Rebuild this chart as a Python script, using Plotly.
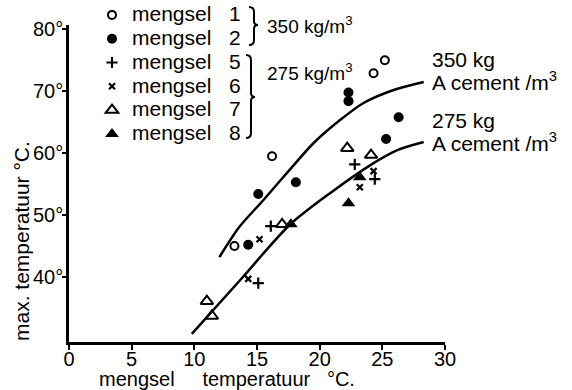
import plotly.graph_objects as go

# ---- data ----
m1_x = [13.2, 16.2, 24.3, 25.2]
m1_y = [45.0, 59.5, 72.9, 75.0]
m2_x = [14.3, 15.1, 18.1, 22.3, 22.3, 25.3, 26.3]
m2_y = [45.2, 53.4, 55.3, 68.4, 69.8, 62.3, 65.8]
m5_x = [15.1, 16.1, 22.8, 24.4]
m5_y = [39.0, 48.2, 58.2, 55.8]
m6_x = [14.3, 15.2, 23.2, 24.3]
m6_y = [39.7, 46.1, 54.5, 57.1]
m7_x = [11.0, 11.4, 17.0, 22.2, 24.1]
m7_y = [36.1, 33.7, 48.5, 60.8, 59.7]
m8_x = [17.7, 22.3, 23.2]
m8_y = [48.5, 51.9, 56.1]

curve350_x = [12.0, 13.6, 15.5, 17.6, 19.5, 21.6, 23.5, 25.9, 28.3]
curve350_y = [43.2, 48.1, 52.4, 57.3, 61.6, 65.3, 68.1, 70.2, 71.5]
curve275_x = [9.8, 13.7, 17.6, 20.8, 24.3, 26.2, 28.3]
curve275_y = [30.8, 39.6, 48.4, 53.5, 58.4, 60.5, 61.8]

series_names = ["1", "2", "5", "6", "7", "8"]
x_ticks = [0, 5, 10, 15, 20, 25, 30]
y_ticks = [40, 50, 60, 70, 80]
y_tick_labels = ["40°", "50°", "60°", "70°", "80°"]

FONT = "Liberation Sans"
NB = "&nbsp;"

W, H = 572, 390
# plot area in pixels (for placing decorations)
L, R, T, B = 69, 445, 25, 342
def px(x):
    return (x - L) / (R - L)
def py(y):
    return (B - y) / (B - T)

fig = go.Figure()

def label(num):
    return '<span style="font-size:21px">mengsel' + NB * 3 + num + '</span>'

def add(xs, ys, num, symbol, size, lw=2):
    fig.add_trace(go.Scatter(
        x=xs, y=ys, mode="markers", name=label(num),
        marker=dict(symbol=symbol, size=size, color="black",
                    line=dict(color="black", width=lw)),
    ))

add(m1_x, m1_y, series_names[0], "circle-open", 8)
add(m2_x, m2_y, series_names[1], "circle", 10, 0)
add(m5_x, m5_y, series_names[2], "cross-thin-open", 8, 2.2)
add(m6_x, m6_y, series_names[3], "x-thin-open", 6, 2.2)
add(m7_x, m7_y, series_names[4], "triangle-up-open", 11)
add(m8_x, m8_y, series_names[5], "triangle-up", 12, 0)

for cx, cy in [(curve350_x, curve350_y), (curve275_x, curve275_y)]:
    fig.add_trace(go.Scatter(x=cx, y=cy, mode="lines", showlegend=False,
                             line=dict(color="black", width=2.5, shape="spline", smoothing=0.8),
                             hoverinfo="skip"))

def brace(x0, y0, y1, ytip):
    xm = x0 + 5
    xt = x0 + 9
    return (f"M {px(x0)} {py(y0)} Q {px(xm)} {py(y0)} {px(xm)} {py(y0+5)} "
            f"L {px(xm)} {py(ytip-4)} Q {px(xm)} {py(ytip)} {px(xt)} {py(ytip)} "
            f"Q {px(xm)} {py(ytip)} {px(xm)} {py(ytip+4)} "
            f"L {px(xm)} {py(y1-5)} Q {px(xm)} {py(y1)} {px(x0)} {py(y1)}")

shapes = [
    dict(type="path", xref="paper", yref="paper", path=brace(249, 7, 45, 25),
         line=dict(color="black", width=2)),
    dict(type="path", xref="paper", yref="paper", path=brace(246, 55, 138, 97),
         line=dict(color="black", width=2)),
]

ann = []
def text(x, y, s, size=20, xanchor="left", angle=0):
    ann.append(dict(x=px(x), y=py(y), xref="paper", yref="paper", text=s,
                    showarrow=False, xanchor=xanchor, yanchor="middle",
                    textangle=angle, font=dict(family=FONT, size=size, color="black")))

text(265, 25, "350 kg/m<sup>3</sup>", size=19)
text(265, 72, "275 kg/m<sup>3</sup>", size=19)
text(430, 59, "350 kg", size=21)
text(430, 81, "A cement /m<sup>3</sup>", size=21)
text(430, 120, "275 kg", size=21)
text(430, 142, "A cement /m<sup>3</sup>", size=21)
text(227, 379, "mengsel" + NB * 5 + "temperatuur" + NB * 3 + "°C.", size=20, xanchor="center")
text(21, 241, "max." + NB + "temperatuur" + NB + "°C.", size=21, xanchor="center", angle=-90)

fig.update_layout(
    width=W, height=H,
    margin=dict(l=L, r=W - R, t=T, b=H - B, pad=0, autoexpand=False),
    paper_bgcolor="white", plot_bgcolor="white",
    font=dict(family=FONT, size=20, color="black"),
    showlegend=True,
    legend=dict(x=px(92), y=py(-2), xanchor="left", yanchor="top",
                bgcolor="rgba(0,0,0,0)", font=dict(family=FONT, size=16, color="black"),
                tracegroupgap=0, borderwidth=0),
    shapes=shapes, annotations=ann,
    xaxis=dict(range=[0, 30], tickvals=x_ticks, showline=True, linecolor="black",
               linewidth=2.5, ticks="outside", ticklen=5, tickwidth=2, tickcolor="black",
               showgrid=False, zeroline=False, tickfont=dict(size=20),
               ticklabelstandoff=-8),
    yaxis=dict(range=[29.5, 80.7], tickvals=y_ticks, ticktext=y_tick_labels,
               showline=True, linecolor="black", linewidth=2.5, ticks="outside",
               ticklen=4, tickwidth=2, tickcolor="black", showgrid=False,
               zeroline=False, tickfont=dict(size=20), ticklabelstandoff=-5),
)

# remove the default 8px page margin so the figure fills the window exactly
fig.write_html("out.html", config={"displayModeBar": False},
               post_script="document.body.style.margin='0';document.body.style.overflow='hidden';")
